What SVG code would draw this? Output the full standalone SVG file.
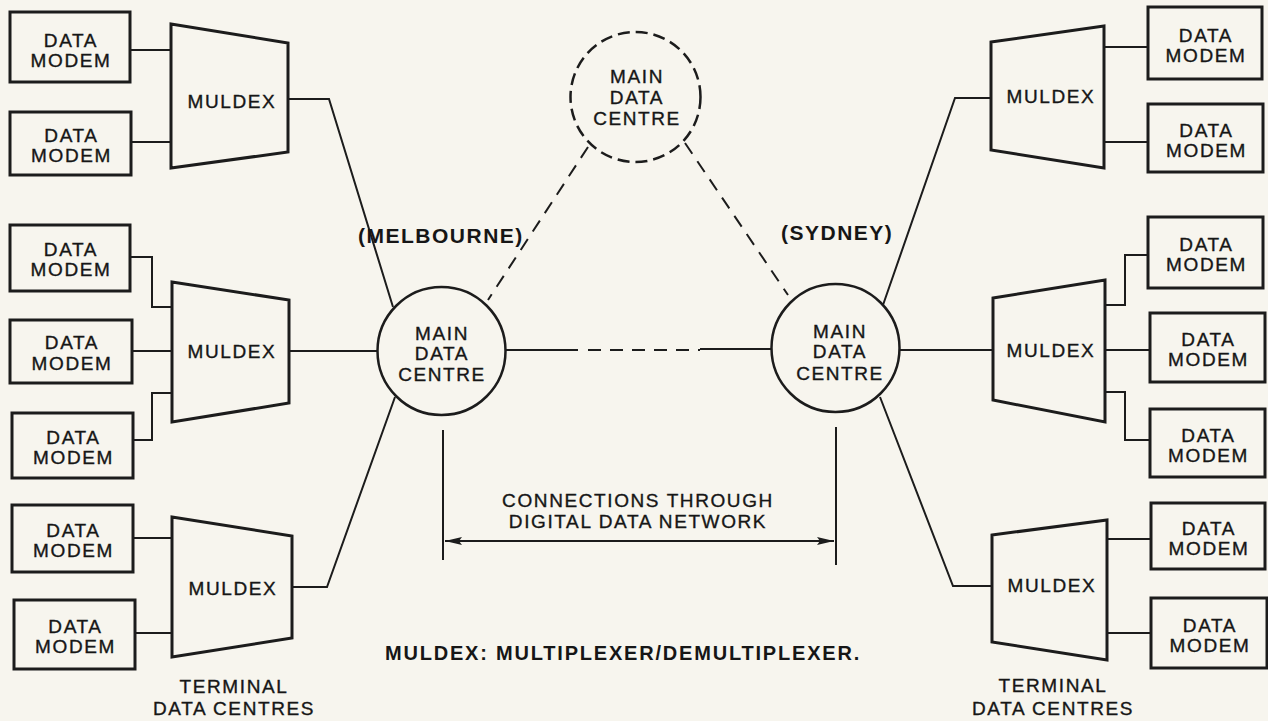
<svg xmlns="http://www.w3.org/2000/svg" width="1268" height="721" viewBox="0 0 1268 721">
  <style>
    .bg { fill: #f7f5ee; }
    .modem { fill: none; stroke: #1c1c1c; stroke-width: 3; }
    .mux { fill: none; stroke: #1c1c1c; stroke-width: 3; stroke-linejoin: miter; }
    .centre { fill: none; stroke: #1c1c1c; stroke-width: 2.5; }
    .centre-dash { fill: none; stroke: #1c1c1c; stroke-width: 2.5; stroke-dasharray: 12 6; }
    .wire { fill: none; stroke: #1c1c1c; stroke-width: 2; }
    .wire-dash { fill: none; stroke: #1c1c1c; stroke-width: 2; stroke-dasharray: 13 9; }
    .t { font-family: "Liberation Sans", Arial, sans-serif; font-size: 19px; fill: #161616; stroke: #161616; stroke-width: 0.35px; letter-spacing: 1.6px; text-anchor: middle; }
    .tb { font-family: "Liberation Sans", Arial, sans-serif; font-size: 21px; font-weight: bold; fill: #161616; letter-spacing: 1.5px; }
    .foot { font-family: "Liberation Sans", Arial, sans-serif; font-size: 20px; font-weight: bold; fill: #161616; letter-spacing: 1.8px; }
  </style>
  <defs>
    <marker id="head" markerUnits="userSpaceOnUse" markerWidth="18" markerHeight="9" refX="17" refY="4" orient="auto-start-reverse">
      <path d="M0,0 L17,4 L0,8 L3,4 z" fill="#1c1c1c"/>
    </marker>
  </defs>

  <rect class="bg" x="0" y="0" width="1268" height="721"/>

  <!-- connectors -->
  <g id="connectors">
    <!-- left upper terminal group -->
    <polyline class="wire" points="130,50 171,50"/>
    <polyline class="wire" points="131,142 171,142"/>
    <polyline class="wire" points="288,99 329,99 393,307"/>
    <!-- left middle terminal group -->
    <polyline class="wire" points="130,257 152,257 152,307 172,307"/>
    <polyline class="wire" points="132,351 172,351"/>
    <polyline class="wire" points="133,440 152,440 152,393 172,393"/>
    <polyline class="wire" points="289,351 377.5,351"/>
    <!-- left lower terminal group -->
    <polyline class="wire" points="133,538 172,538"/>
    <polyline class="wire" points="135,633 172,633"/>
    <polyline class="wire" points="292,587 327,587 395,397"/>
    <!-- right upper terminal group -->
    <polyline class="wire" points="1104,47 1148,47"/>
    <polyline class="wire" points="1104,142 1148,142"/>
    <polyline class="wire" points="991,98 955,98 883,305"/>
    <!-- right middle terminal group -->
    <polyline class="wire" points="1105,305 1125,305 1125,255 1148,255"/>
    <polyline class="wire" points="1105,350 1150,350"/>
    <polyline class="wire" points="1105,392 1125,392 1125,440 1150,440"/>
    <polyline class="wire" points="899.5,350 993,350"/>
    <!-- right lower terminal group -->
    <polyline class="wire" points="1107,539 1151,539"/>
    <polyline class="wire" points="1107,633 1151,633"/>
    <polyline class="wire" points="992,586 953,586 880,397"/>
    <!-- links between main data centres -->
    <line class="wire-dash" x1="588" y1="147" x2="488" y2="300"/>
    <line class="wire-dash" x1="685" y1="143" x2="788" y2="295"/>
    <line class="wire" x1="505.5" y1="350" x2="578" y2="350"/>
    <line class="wire-dash" x1="588" y1="350" x2="700" y2="350" stroke-dasharray="17 11"/>
    <line class="wire" x1="700" y1="349" x2="771.5" y2="349"/>
    <!-- span of the digital data network -->
    <line class="wire" x1="443" y1="430" x2="443" y2="560"/>
    <line class="wire" x1="836" y1="427" x2="836" y2="565"/>
    <line class="wire" x1="445" y1="541" x2="834" y2="541" marker-start="url(#head)" marker-end="url(#head)"/>
  </g>

  <!-- main data centres -->
  <g id="centre-melbourne">
    <circle class="centre" cx="441.5" cy="351" r="64"/>
    <text class="t" x="442" y="340">MAIN</text>
    <text class="t" x="442" y="360">DATA</text>
    <text class="t" x="442" y="381">CENTRE</text>
  </g>
  <g id="centre-sydney">
    <circle class="centre" cx="835.5" cy="348" r="64"/>
    <text class="t" x="840" y="338">MAIN</text>
    <text class="t" x="840" y="358">DATA</text>
    <text class="t" x="840" y="380">CENTRE</text>
  </g>
  <g id="centre-optional">
    <circle class="centre-dash" cx="635.5" cy="97" r="65"/>
    <text class="t" x="637" y="83">MAIN</text>
    <text class="t" x="637" y="104">DATA</text>
    <text class="t" x="637" y="125">CENTRE</text>
  </g>

  <g id="label-melbourne"><text class="tb" x="358" y="243">(MELBOURNE)</text></g>
  <g id="label-sydney"><text class="tb" x="781" y="240">(SYDNEY)</text></g>

  <!-- multiplexer/demultiplexer units -->
  <g id="muldex-l1">
    <polygon class="mux" points="171,24 288,43 288,152 171,168"/>
    <text class="t" x="232" y="108">MULDEX</text>
  </g>
  <g id="muldex-l2">
    <polygon class="mux" points="172,282 289,300 289,403 172,422"/>
    <text class="t" x="232" y="358">MULDEX</text>
  </g>
  <g id="muldex-l3">
    <polygon class="mux" points="172,517 292,536 292,638 172,657"/>
    <text class="t" x="233" y="595">MULDEX</text>
  </g>
  <g id="muldex-r1">
    <polygon class="mux" points="991,42 1104,26 1104,168 991,150"/>
    <text class="t" x="1051" y="103">MULDEX</text>
  </g>
  <g id="muldex-r2">
    <polygon class="mux" points="993,298 1105,280 1105,422 993,400"/>
    <text class="t" x="1051" y="357">MULDEX</text>
  </g>
  <g id="muldex-r3">
    <polygon class="mux" points="992,535 1107,520 1107,660 992,642"/>
    <text class="t" x="1052" y="592">MULDEX</text>
  </g>

  <!-- data modems, left -->
  <g id="modem-l1"><rect class="modem" x="10" y="12" width="120" height="70"/><text class="t" x="71" y="47">DATA</text><text class="t" x="71" y="67">MODEM</text></g>
  <g id="modem-l2"><rect class="modem" x="10" y="112" width="121" height="63"/><text class="t" x="71.5" y="142">DATA</text><text class="t" x="71.5" y="162">MODEM</text></g>
  <g id="modem-l3"><rect class="modem" x="10" y="225" width="120" height="66"/><text class="t" x="71" y="256">DATA</text><text class="t" x="71" y="276">MODEM</text></g>
  <g id="modem-l4"><rect class="modem" x="10" y="320" width="122" height="63"/><text class="t" x="72" y="349">DATA</text><text class="t" x="72" y="370">MODEM</text></g>
  <g id="modem-l5"><rect class="modem" x="12" y="413" width="121" height="65"/><text class="t" x="73.5" y="444">DATA</text><text class="t" x="73.5" y="464">MODEM</text></g>
  <g id="modem-l6"><rect class="modem" x="12" y="505" width="121" height="67"/><text class="t" x="73.5" y="537">DATA</text><text class="t" x="73.5" y="557">MODEM</text></g>
  <g id="modem-l7"><rect class="modem" x="14" y="600" width="121" height="69"/><text class="t" x="75.5" y="633">DATA</text><text class="t" x="75.5" y="653">MODEM</text></g>

  <!-- data modems, right -->
  <g id="modem-r1"><rect class="modem" x="1148" y="7" width="114" height="72"/><text class="t" x="1206" y="42">DATA</text><text class="t" x="1206" y="62">MODEM</text></g>
  <g id="modem-r2"><rect class="modem" x="1148" y="104" width="115" height="68"/><text class="t" x="1206.5" y="137">DATA</text><text class="t" x="1206.5" y="157">MODEM</text></g>
  <g id="modem-r3"><rect class="modem" x="1148" y="217" width="115" height="71"/><text class="t" x="1206.5" y="251">DATA</text><text class="t" x="1206.5" y="271">MODEM</text></g>
  <g id="modem-r4"><rect class="modem" x="1150" y="313" width="115" height="69"/><text class="t" x="1208.5" y="346">DATA</text><text class="t" x="1208.5" y="366">MODEM</text></g>
  <g id="modem-r5"><rect class="modem" x="1150" y="409" width="115" height="68"/><text class="t" x="1208.5" y="442">DATA</text><text class="t" x="1208.5" y="462">MODEM</text></g>
  <g id="modem-r6"><rect class="modem" x="1151" y="503" width="114" height="66"/><text class="t" x="1209" y="535">DATA</text><text class="t" x="1209" y="555">MODEM</text></g>
  <g id="modem-r7"><rect class="modem" x="1151" y="598" width="116" height="70"/><text class="t" x="1210" y="632">DATA</text><text class="t" x="1210" y="652">MODEM</text></g>

  <!-- captions -->
  <g id="caption-network">
    <text class="t" x="638" y="507">CONNECTIONS THROUGH</text>
    <text class="t" x="638" y="528">DIGITAL DATA NETWORK</text>
  </g>
  <g id="caption-terminal-left">
    <text class="t" x="234" y="693">TERMINAL</text>
    <text class="t" x="234" y="715">DATA CENTRES</text>
  </g>
  <g id="caption-terminal-right">
    <text class="t" x="1053" y="692">TERMINAL</text>
    <text class="t" x="1053" y="715">DATA CENTRES</text>
  </g>
  <g id="caption-legend">
    <text class="foot" x="385" y="660">MULDEX: MULTIPLEXER/DEMULTIPLEXER.</text>
  </g>
</svg>
